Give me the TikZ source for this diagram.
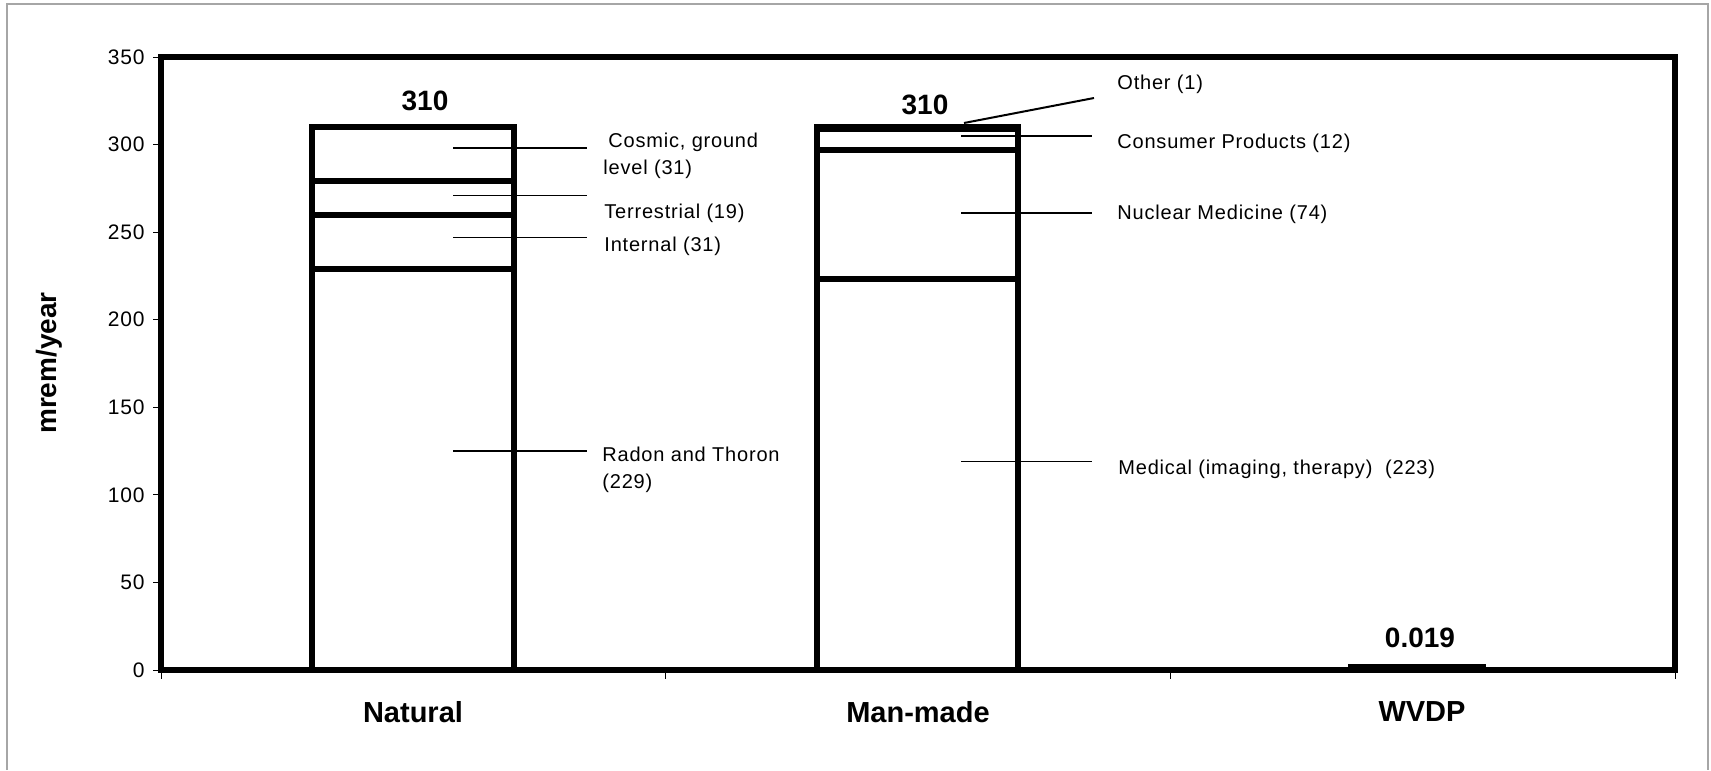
\documentclass[tikz,border=0pt]{standalone}
\usepackage{fontspec}
\setmainfont{Liberation Sans}
\newfontfamily\lblfont[LetterSpace=4]{Liberation Sans}
\newcommand{\mrem}[1]{670-1.7514*#1}

\begin{document}
\begin{tikzpicture}[x=0.5pt, y=-0.5pt,
		barline/.style = {line width=3pt},
		leader/.style = {line width=0.75pt},
		lbl/.style = {anchor=west, inner sep=0pt, align=left, font=\lblfont\fontsize{10}{13.5}\selectfont},
		tot/.style = {inner sep=0pt, font=\bfseries\fontsize{14}{16}\selectfont},
		cat/.style = {inner sep=0pt, font=\bfseries\fontsize{14.5}{17}\selectfont}]

	\useasboundingbox (0,0) rectangle (1711,770);
	\draw[gray!70, line width=0.6pt] (7,770) -- (7,4) -- (1708,4) -- (1708,770);

	\foreach \v in {0,50,...,350}
	{
		\draw[line width=0.5pt] (153,{\mrem{\v}}) -- (161,{\mrem{\v}});
		\node[anchor=east, inner sep=0pt, font=\lblfont\fontsize{10.5}{12}\selectfont] at (145,{\mrem{\v}}) {\v};
	}
	\foreach \x in {161, 665.7, 1170.3, 1675}
		\draw[line width=0.5pt] (\x,670) -- (\x,679);

	\draw[line width=3pt] (161,{\mrem{0}}) rectangle (1675,{\mrem{350}});

	\draw[barline] (312,{\mrem{0}}) rectangle (514,{\mrem{310}});
	\foreach \v in {279, 260, 229}
		\draw[barline] (312,{\mrem{\v}}) -- (514,{\mrem{\v}});

	\draw[barline] (817,{\mrem{0}}) rectangle (1018,{\mrem{310}});
	\foreach \v in {309, 297, 223}
		\draw[barline] (817,{\mrem{\v}}) -- (1018,{\mrem{\v}});

	\fill (1348,664) rectangle (1486,673);

	\node[tot] (natTot) at (425,101) {310};
	\node[tot] (manTot) at (925,105) {310};
	\node[tot] (wvdpTot) at (1420,638) {0.019};

	\node[cat] (natCat) at (413,712) {Natural};
	\node[cat] (manCat) at (918,712) {Man-made};
	\node[cat] (wvdpCat) at (1422,712) {WVDP};
	\node[rotate=90, inner sep=0pt, font=\bfseries\fontsize{14}{16}\selectfont] (yLab) at (49,363) {mrem/year};

	\foreach \n/\v in {cos/298, ter/271, int/247, rad/125}
	{
		\coordinate (\n A) at (453,{\mrem{\v}});
		\coordinate (\n B) at (587,{\mrem{\v}});
		\draw[leader] (\n A) -- (\n B);
	}
	\foreach \n/\v in {con/305, nuc/261, med/119}
	{
		\coordinate (\n A) at (961,{\mrem{\v}});
		\coordinate (\n B) at (1092,{\mrem{\v}});
		\draw[leader] (\n A) -- (\n B);
	}
	\coordinate (othA) at (964,123);
	\coordinate (othB) at (1094,98);
	\draw[line width=1pt] (othA) -- (othB);

	\node[lbl] (cosLab) at (603,156) {\hspace{2.5pt}Cosmic, ground\\level (31)};
	\node[lbl] (terLab) at (604,213) {Terrestrial (19)};
	\node[lbl] (intLab) at (604,246) {Internal (31)};
	\node[lbl] (radLab) at (602,470) {Radon and Thoron\\(229)};

	\node[lbl] (othLab) at (1117,84) {Other (1)};
	\node[lbl] (conLab) at (1117,143) {Consumer Products (12)};
	\node[lbl] (nucLab) at (1117,214) {Nuclear Medicine (74)};
	\node[lbl] (medLab) at (1118,469) {Medical (imaging, therapy)\ \ (223)};
\end{tikzpicture}
\end{document}
